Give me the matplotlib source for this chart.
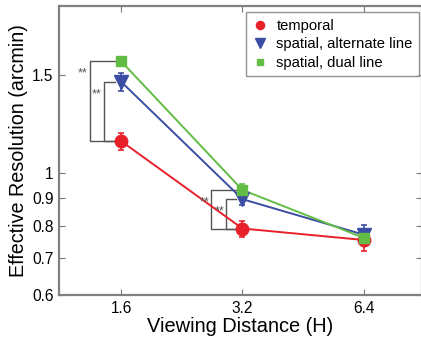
import matplotlib
matplotlib.use("Agg")
import matplotlib.pyplot as plt
from matplotlib.ticker import FixedLocator, NullLocator, FixedFormatter

plt.rcParams['font.family'] = ['Liberation Sans', 'DejaVu Sans']

distances = [1.6, 3.2, 6.4]
x_labels = ["1.6", "3.2", "6.4"]
temporal = [1.14, 0.792, 0.755]
temporal_err = [0.04, 0.026, 0.035]
alternate = [1.46, 0.895, 0.772]
alternate_err = [0.055, 0.02, 0.03]
dual = [1.59, 0.93, 0.762]
dual_err = [0.03, 0.025, 0.022]
y_ticks = [0.6, 0.7, 0.8, 0.9, 1, 1.5]
y_labels = ["0.6", "0.7", "0.8", "0.9", "1", "1.5"]

red = '#e8202a'
blue = '#3b4ea3'
green = '#62bd45'

fig = plt.figure(figsize=(4.21, 3.42), dpi=100)
ax = fig.add_axes([0.140, 0.137, 0.862, 0.845])
ax.set_xscale('log')
ax.set_yscale('log')

series = [(temporal, temporal_err, red, 'o', 9, 'temporal'),
          (alternate, alternate_err, blue, 'v', 10, 'spatial, alternate line'),
          (dual, dual_err, green, 's', 7, 'spatial, dual line')]
for vals, errs, c, m, ms, lab in series:
    ax.plot(distances, vals, color=c, lw=1.4, zorder=2)
    ax.errorbar(distances, vals, yerr=errs, fmt='none', ecolor=c, elinewidth=1.2,
                capsize=2.5, capthick=1.2, zorder=3)
    ax.plot(distances, vals, ls='none', marker=m, ms=ms, color=c, mec=c,
            label=lab, zorder=4)

# significance brackets
bcol = '#555555'
def bracket(xv, y1, y2, xline, xtext):
    ax.plot([xv * 0.965, xline, xline, xv * 0.965], [y1, y1, y2, y2],
            color=bcol, lw=1.0, zorder=1)
    ax.text(xtext, y1 * 0.95, '**', fontsize=9, color=bcol, ha='center', va='center')

bracket(1.6, dual[0], temporal[0], 1.6 * 2 ** (-31 / 121), 1.6 * 2 ** (-38 / 121))
bracket(1.6, alternate[0], temporal[0], 1.6 * 2 ** (-17 / 121), 1.6 * 2 ** (-24 / 121))
bracket(3.2, dual[1], temporal[1], 3.2 * 2 ** (-31 / 121), 3.2 * 2 ** (-38 / 121))
bracket(3.2, alternate[1], temporal[1], 3.2 * 2 ** (-16 / 121), 3.2 * 2 ** (-23 / 121))

ax.set_xlim(1.6 * 2 ** (-62 / 121), 6.4 * 2 ** (58 / 121))
ax.set_ylim(0.6, 2.0)
ax.xaxis.set_major_locator(FixedLocator(distances))
ax.xaxis.set_major_formatter(FixedFormatter(x_labels))
ax.xaxis.set_minor_locator(NullLocator())
ax.yaxis.set_major_locator(FixedLocator(y_ticks))
ax.yaxis.set_major_formatter(FixedFormatter(y_labels))
ax.yaxis.set_minor_locator(NullLocator())

ax.tick_params(direction='in', length=4, width=0.8, colors='#777777',
               labelcolor='black', labelsize=11.2, top=True, right=True, pad=4)
for s in ax.spines.values():
    s.set_color('#808080')
    s.set_linewidth(1.6)

ax.set_xlabel('Viewing Distance (H)', fontsize=14.4, labelpad=1)
ax.set_ylabel('Effective Resolution (arcmin)', fontsize=14.2, labelpad=3)

leg = ax.legend(loc='upper right', bbox_to_anchor=(0.9935, 0.979), fontsize=10.6,
                frameon=True, fancybox=False, borderpad=0.45, handletextpad=0.55,
                labelspacing=0.3, handlelength=1.1, borderaxespad=0,
                markerscale=0.65)
leg.get_frame().set_edgecolor('#777777')
leg.get_frame().set_linewidth(1.0)

fig.savefig('out.png', dpi=100)
